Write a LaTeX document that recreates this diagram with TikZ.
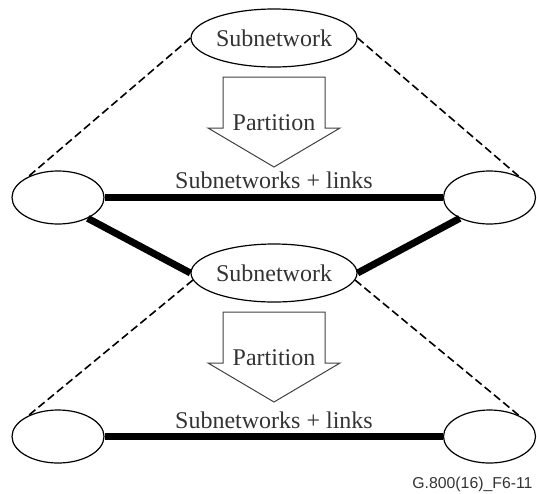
\documentclass[tikz,border=0pt]{standalone}
\usepackage{fontspec}
\setmainfont{Liberation Serif}
\newfontfamily\figfont{Liberation Sans}
\usetikzlibrary{shapes.geometric}

\begin{document}
\begin{tikzpicture}[x=1pt, y=-1pt, font=\fontsize{24}{28}\selectfont, text=black!80,
		subnet/.style={draw=black, ellipse, line width=1.2pt, inner sep=0pt, minimum width=166pt, minimum height=58pt},
		sidenet/.style={draw=black, ellipse, line width=1.2pt, inner sep=0pt, minimum width=92pt, minimum height=53pt},
		link/.style={line width=7pt},
		zoomline/.style={line width=1.6pt, dash pattern=on 8pt off 4pt},
		partarrow/.style={draw=black!75, line width=1pt, line join=miter}]
		\useasboundingbox (0, 0) rectangle (537, 493);
		\node [subnet] (s1) at (274, 38) {Subnetwork};
		\node [sidenet] (a1) at (58, 197.5) {};
		\node [sidenet] (b1) at (489.5, 197.5) {};
		\node [subnet] (s2) at (274, 273) {Subnetwork};
		\node [sidenet] (a2) at (58, 436.5) {};
		\node [sidenet] (b2) at (489.5, 436.5) {};
		\draw [zoomline] (s1.west) -- (a1.145);
		\draw [zoomline] (s1.east) -- (b1.35);
		\draw [zoomline] (s2.185) -- (a2.145);
		\draw [zoomline] (s2.-5) -- (b2.35);
		\draw [link] (a1.east) -- (b1.west);
		\draw [link] (a1.-35) -- (s2.west);
		\draw [link] (s2.east) -- (b1.-145);
		\draw [link] (a2.east) -- (b2.west);
		\draw [partarrow] (223, 77) -- (325, 77) -- (325, 128) -- (340, 128) -- (274, 167) -- (208, 128) -- (223, 128) -- cycle;
		\node [anchor=base] (p1) at (274, 130) {Partition};
		\draw [partarrow] (223, 312) -- (325, 312) -- (325, 363) -- (340, 363) -- (274, 402) -- (208, 363) -- (223, 363) -- cycle;
		\node [anchor=base] (p2) at (274, 365) {Partition};
		\node [anchor=base] (t1) at (274, 188) {Subnetworks + links};
		\node [anchor=base] (t2) at (274, 428) {Subnetworks + links};
		\node [anchor=base east, font=\figfont\fontsize{15.8}{18}\selectfont] (fig) at (536, 488) {G.800(16)\_F6-11};
	\end{tikzpicture}
\end{document}
